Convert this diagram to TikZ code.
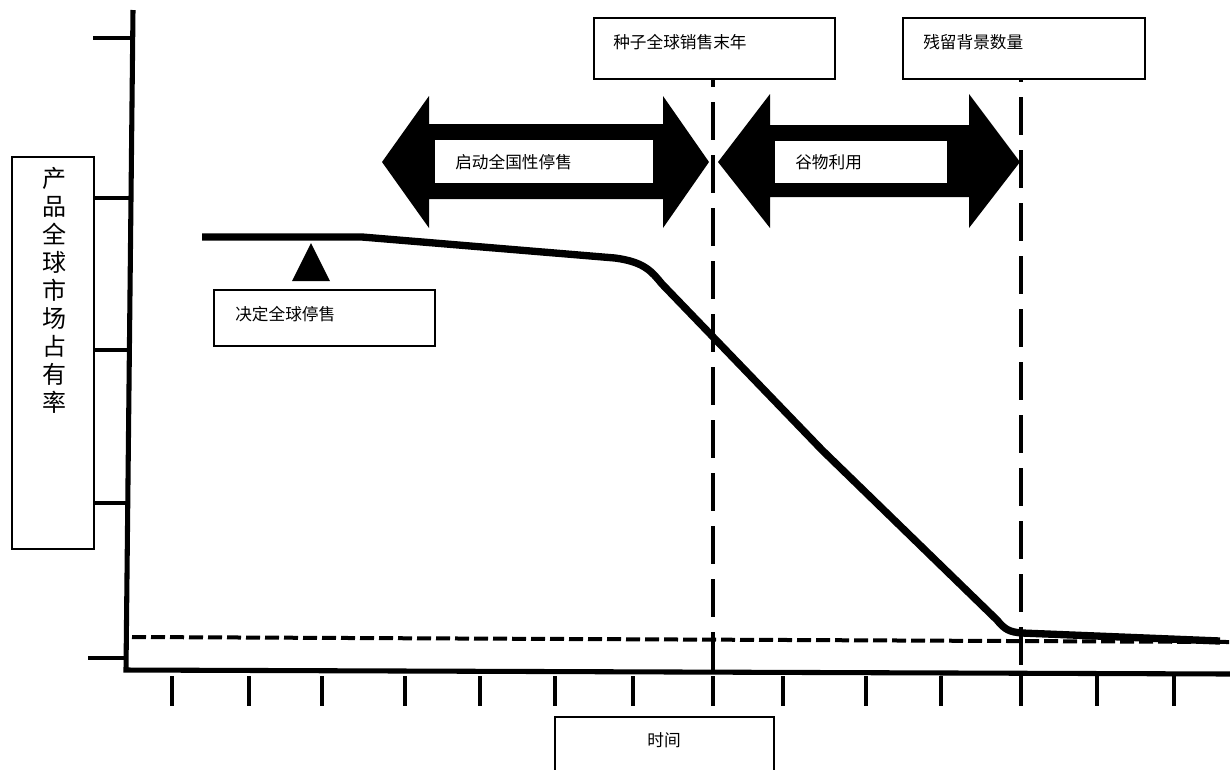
\documentclass[tikz,border=0pt]{standalone}
\usepackage{fontspec}
\newfontfamily\cjkfont{Noto Sans CJK SC}
\usetikzlibrary{positioning,fit}

\begin{document}
\begin{tikzpicture}[
  x=0.75pt, y=-0.75pt,
  font=\cjkfont\fontsize{12.5}{15}\selectfont,
  axis/.style={line width=3.8pt, line join=miter},
  tickmark/.style={line width=3pt},
  guide/.style={line width=3pt, dash pattern=on 28.5pt off 11.25pt},
  floor/.style={line width=3pt, dash pattern=on 10.5pt off 3.75pt},
  share/.style={line width=5.5pt, line join=round},
  lblbox/.style={draw, line width=1.1pt, fill=white, inner sep=0pt},
  tag/.style={fill=white, inner sep=0pt},
  txt/.style={anchor=west, inner sep=0pt},
  dblarrow/.style={fill=black}
]
\useasboundingbox (0,0) rectangle (1230,769);
\clip (0,0) rectangle (1230,769);

% axes
\draw[axis] (133,10) -- (126,670) -- (1230,674);
\foreach \ty/\tx in {38/131, 198/130, 350/129, 503/128}
  \draw[tickmark] (93,\ty) -- (\tx,\ty);
\draw[tickmark] (88,658) -- (126,658);
\foreach \tx in {172,249,322,405,480,555,633,713,783,866,941,1021,1097,1174}
  \draw[tickmark] (\tx,676) -- (\tx,706);

% guide lines
\draw[guide] (713,49) -- (713,672);
\draw[guide] (1021,44) -- (1021,668);
\draw[floor] (132,637) -- (1230,642);

% market share curve
\draw[share] (202,237) -- (362,237) -- (615,258)
  .. controls (645,262) and (652,272) .. (662,284)
  -- (822,450) -- (997,620)
  .. controls (1005,630) and (1010,632) .. (1022,633) -- (1220,641);
\fill (311,243) -- (330,281) -- (292,281) -- cycle;

% phase arrows
\fill[dblarrow] (382,162) -- (429,96) -- (429,124) -- (663,124) -- (663,96) -- (709,162)
  -- (663,228) -- (663,199) -- (429,199) -- (429,228) -- cycle;
\fill[dblarrow] (718,162) -- (770,94) -- (770,125) -- (969,125) -- (969,94) -- (1020,162)
  -- (969,228) -- (969,197) -- (770,197) -- (770,228) -- cycle;

\node[tag, fit={(435,140) (653,183)}] (stoptag) {};
\node[txt] (stoptxt) at (455,162) {启动全国性停售};
\node[tag, fit={(775,141) (947,183)}] (graintag) {};
\node[txt] (graintxt) at (795,162) {谷物利用};

% event boxes
\node[lblbox, fit={(594,18) (835,79)}] (seedbox) {};
\node[txt] (seedtxt) at (613,42) {种子全球销售末年};
\node[lblbox, fit={(903,18) (1145,79)}] (restbox) {};
\node[txt] (resttxt) at (923,42) {残留背景数量};
\node[lblbox, fit={(214,290) (435,346)}] (decbox) {};
\node[txt] (dectxt) at (235,314) {决定全球停售};

% axis titles
\node[lblbox, fit={(12,157) (94,549)}] (ybox) {};
\node[anchor=north, align=center, inner sep=0pt, font=\cjkfont\fontsize{18}{21}\selectfont]
  (ylabel) at (54,167) {产\\品\\全\\球\\市\\场\\占\\有\\率};
\node[lblbox, fit={(555,717) (774,790)}] (timebox) {};
\node (timetxt) at (664,740) {时间};
\end{tikzpicture}
\end{document}
